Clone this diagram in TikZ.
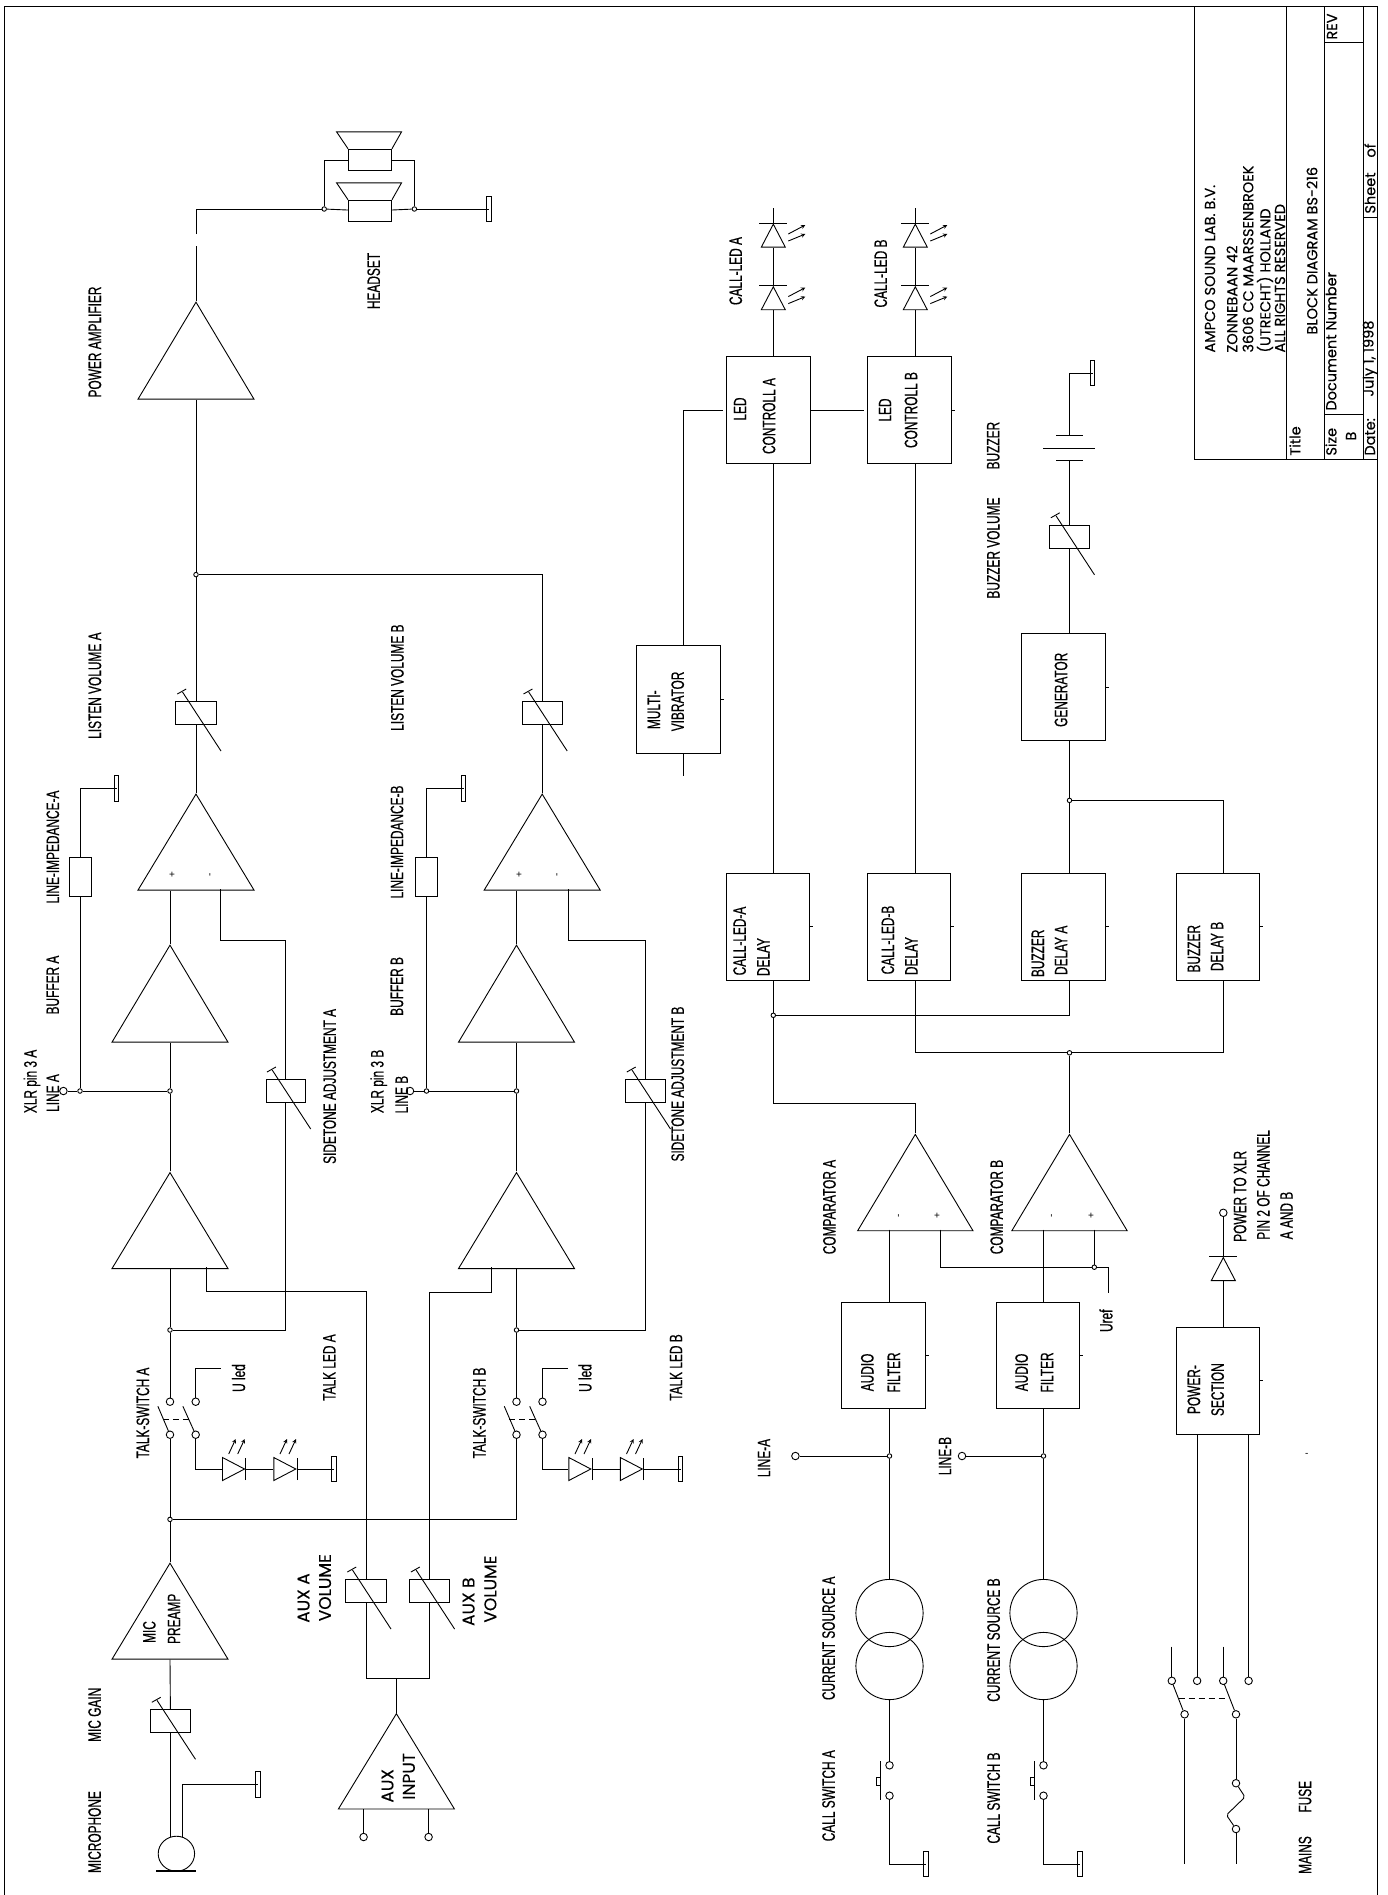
\documentclass[tikz,border=0pt]{standalone}
\usepackage{fontspec}
\usetikzlibrary{shapes.geometric}
\newfontfamily\cadfont[FakeStretch=.66,FakeBold=.5]{Liberation Sans}
\newfontfamily\gothfont[FakeBold=.3]{Poppins}
\newfontfamily\signfont{Liberation Sans}
\tikzset{
    box/.style 2 args={draw, rectangle, inner sep=0pt, minimum width=#1, minimum height=#2},
    amp/.style 2 args={draw, isosceles triangle, isosceles triangle stretches, shape border rotate=90,
        anchor=apex, inner sep=0pt, minimum width=#1, minimum height=#2},
    diodeup/.style={amp={24}{23}},
    dioderight/.style={draw, isosceles triangle, isosceles triangle stretches, anchor=apex,
        inner sep=0pt, minimum width=23, minimum height=22},
    dot/.style={draw, circle, inner sep=0pt, minimum size=4.5},
    term/.style={draw, circle, inner sep=0pt, minimum size=7.5},
    earth/.style={draw, rectangle, inner sep=0pt, minimum width=4.4, minimum height=25.5},
    lbl/.style={rotate=90, inner sep=0pt, font=\cadfont\fontsize{18}{18}\selectfont},
    pm/.style={rotate=90, inner sep=0pt, font=\signfont\fontsize{10}{10}\selectfont},
    goth/.style={rotate=90, inner sep=0pt, font=\gothfont\fontsize{17}{17}\selectfont},
    title/.style={rotate=90, inner sep=0pt, anchor=west, font=\gothfont\fontsize{14.5}{14.5}\selectfont},
    linked/.style={dash pattern=on 6pt off 4pt},
}
% adjustable resistor: name, x, y, width
\newcommand{\potm}[4]{
    \node[box={#4}{23}] (#1) at (#2,#3) {};
    \draw ([shift={(-13.5,-21)}]#1.center) -- ([shift={(25,38)}]#1.center);
    \draw ([shift={(-18.7,-19)}]#1.center) -- ([shift={(-9.8,-24)}]#1.center);
}
% led pointing up: name, apex x, apex y
\newcommand{\ledup}[3]{
    \node[diodeup] (#1) at (#2,#3) {};
    \draw ([xshift=-14pt]#1.apex) -- ([xshift=14pt]#1.apex);
    \draw[->] ([shift={(15,11)}]#1.apex) -- ([shift={(32,2)}]#1.apex);
    \draw[->] ([shift={(15,18)}]#1.apex) -- ([shift={(32,11)}]#1.apex);
}
% led pointing right: name, apex x, apex y
\newcommand{\ledright}[3]{
    \node[dioderight] (#1) at (#2,#3) {};
    \draw ([yshift=-11pt]#1.apex) -- ([yshift=11pt]#1.apex);
    \draw[->] ([shift={(-17,-15)}]#1.apex) -- ([shift={(-10,-30)}]#1.apex);
    \draw[->] ([shift={(-8,-15)}]#1.apex) -- ([shift={(-1,-30)}]#1.apex);
}
% earphone: name, x, y
\newcommand{\phone}[3]{
    \node[box={43}{21.5}] (#1) at (#2,#3) {};
    \draw (#1.north west) -- ++(-11.5,-17) -- ++(65,0) -- (#1.north east);
}
\begin{document}
\begin{tikzpicture}[x=1pt, y=-1pt, line width=.9pt, >=stealth]
    \useasboundingbox (0,0) rectangle (1388,1895);

    % Frame and title block
    \draw (4.7,1895) -- (4.7,6.5) -- (1377.7,6.5) -- (1377.7,1895);
    \draw (1194,6.5) -- (1194,459) -- (1377.7,459);
    \draw (1286,6.5) -- (1286,459);
    \draw (1324.3,6.5) -- (1324.3,459);
    \draw (1363.7,6.5) -- (1363.7,459);
    \draw (1324.3,42) -- (1363.7,42);
    \draw (1324.3,414) -- (1363.7,414);
    \draw (1363.7,217) -- (1377.7,217);
    \node[title] (tbAmpco) at (1210,353) {AMPCO SOUND LAB. B.V.};
    \node[title] (tbStreet) at (1232,353) {ZONNEBAAN 42};
    \node[title] (tbCity) at (1248,353) {3606 CC MAARSSENBROEK};
    \node[title] (tbLand) at (1265,353) {(UTRECHT) HOLLAND};
    \node[title] (tbRights) at (1280,353) {ALL RIGHTS RESERVED};
    \node[title] (tbTitle) at (1295,456) {Title};
    \node[title] (tbBlock) at (1312,335) {BLOCK DIAGRAM BS-216};
    \node[title] (tbSize) at (1331,456) {Size};
    \node[title] (tbB) at (1351,441) {B};
    \node[title] (tbDoc) at (1331,411) {Document Number};
    \node[title] (tbDate) at (1370,456) {Date:};
    \node[title] (tbJuly) at (1370,397) {July 1, 1998};
    \node[title] (tbSheet) at (1370,214) {Sheet};
    \node[title] (tbOf) at (1370,158) {of};
    \node[title] (tbRev) at (1332,40) {REV};

    % Channel A
    \node[amp={116}{96}] (preA) at (170,1562) {};
    \node[amp={116}{96}] (ampA) at (170,1171.4) {};
    \node[amp={116}{97}] (bufA) at (170,944) {};
    \node[amp={116}{96}] (difA) at (196,792.9) {};
    \node[amp={116}{97}] (power) at (196,301) {};
    \node[dot] (jMicA) at (170,1519.4) {};
    \node[dot] (jSideA) at (170,1330) {};
    \node[dot] (jLineA) at (170,1091) {};
    \node[dot] (jZA) at (80,1091) {};
    \node[term] (xlrA) at (63.4,1091) {};
    \node[dot] (jListen) at (196,574.6) {};
    \node[term] (swA1t) at (170,1401.7) {};
    \node[term] (swA1b) at (170,1434.7) {};
    \node[term] (swA2t) at (195.7,1401.7) {};
    \node[term] (swA2b) at (195.7,1434.7) {};
    \coordinate (uLedA) at (221.4,1368);
    \ledright{ledA1}{245.7}{1469}
    \ledright{ledA2}{297}{1469}
    \node[earth] (gndLedA) at (334,1469) {};
    \potm{gain}{170.5}{1721.3}{40.3}
    \potm{sideA}{285.7}{1091}{39.5}
    \potm{listenA}{196}{713}{40.7}
    \node[box={22}{39.3}] (zA) at (80,877) {};
    \node[earth] (gndZA) at (116.5,788.2) {};
    \coordinate (difAp) at (220.4,889);
    \coordinate (difAc) at (285.7,940.4);
    \coordinate (ampAp) at (206.6,1267);
    \coordinate (ampAc) at (366,1291.8);

    % Channel B
    \node[amp={116}{96}] (ampB) at (516.5,1171.4) {};
    \node[amp={116}{97}] (bufB) at (516.5,944) {};
    \node[amp={116}{96}] (difB) at (542.2,792.9) {};
    \node[dot] (jSideB) at (516.5,1330) {};
    \node[dot] (jLineB) at (516.5,1091) {};
    \node[dot] (jZB) at (426.5,1091) {};
    \node[term] (xlrB) at (410,1091) {};
    \node[term] (swB1t) at (516.5,1401.7) {};
    \node[term] (swB1b) at (516.5,1434.7) {};
    \node[term] (swB2t) at (542.5,1401.7) {};
    \node[term] (swB2b) at (542.5,1434.7) {};
    \coordinate (uLedB) at (568,1368);
    \ledright{ledB1}{592}{1469}
    \ledright{ledB2}{643.5}{1469}
    \node[earth] (gndLedB) at (680.5,1469) {};
    \potm{sideB}{645.5}{1091}{39.5}
    \potm{listenB}{542.2}{713}{39.5}
    \node[box={22}{39.3}] (zB) at (426.5,877) {};
    \node[earth] (gndZB) at (463.5,788.2) {};
    \coordinate (difBp) at (568.4,889);
    \coordinate (difBc) at (645.5,940.4);
    \coordinate (ampBp) at (491.3,1267);
    \coordinate (ampBc) at (429.6,1292.9);

    % Microphone, aux input and headset
    \node[draw, ellipse, inner sep=0pt, minimum width=36.4, minimum height=35] (mic) at (176.4,1853.7) {};
    \coordinate (micSig) at (170,1837);
    \coordinate (micGnd) at (182.5,1837);
    \node[earth] (gndMic) at (258,1784.6) {};
    \draw[line width=1.2pt] (156.4,1871) -- (196.4,1871);
    \potm{auxVolA}{366}{1591}{40.7}
    \potm{auxVolB}{429.6}{1591}{40}
    \coordinate (auxSum) at (396.4,1678.7);
    \node[amp={116}{95.3}] (auxIn) at (396.4,1712.5) {};
    \node[term] (auxTa) at (363.6,1837) {};
    \node[term] (auxTb) at (428.6,1837) {};
    \phone{phoneA}{370}{160}
    \phone{phoneB}{370}{211}
    \node[dot] (jPhA) at (324.2,209) {};
    \node[dot] (jPhB) at (414.4,209) {};
    \node[earth] (gndPh) at (489,209) {};
    \coordinate (cutLow) at (196,246);
    \coordinate (cutHigh) at (196,234);

    % Call logic
    \node[box={84.4}{108.3}] (multi) at (678.5,699.5) {};
    \node[box={83.7}{106.5}] (ctlA) at (768.2,410) {};
    \node[box={84.4}{106.5}] (ctlB) at (909.5,410) {};
    \ledup{callA1}{773.3}{285.6}
    \ledup{callA2}{773.3}{223}
    \ledup{callB1}{915.3}{285.6}
    \ledup{callB2}{915.3}{223}
    \coordinate (mvOut) at (683.3,645.4);
    \coordinate (mvEnd) at (683.3,776);
    \coordinate (ctlAin) at (722.7,410);
    \coordinate (ctlBin) at (864,410);
    \coordinate (topA) at (773.3,208);
    \coordinate (topB) at (915.3,208);
    \node[box={83}{107}] (dlyA) at (768,926.5) {};
    \node[box={83}{107}] (dlyB) at (909.4,926.5) {};
    \node[box={84}{107}] (dlyC) at (1063.2,926.5) {};
    \node[box={83.6}{107}] (dlyD) at (1217.8,926.5) {};
    \node[box={84}{107}] (gen) at (1063.3,687) {};
    \potm{buzVol}{1069.5}{536.8}{39.6}
    \node[dot] (jGen) at (1069.5,800.4) {};
    \node[dot] (jCmpA) at (773.3,1015.3) {};
    \node[dot] (jCmpB) at (1069.5,1052.8) {};
    \coordinate (cmpAc) at (773.3,1103.3);
    \coordinate (cmpAd) at (915.3,1103.3);
    \coordinate (dlyBc) at (915.3,1052.8);
    \coordinate (dlyDc) at (1223.3,1052.8);
    \coordinate (genD) at (1223.3,800.4);
    \node[amp={115.4}{96.4}] (cmpA) at (915.3,1133.2) {};
    \node[amp={115.4}{96.4}] (cmpB) at (1069.5,1133.2) {};
    \coordinate (cmpAm) at (889.5,1229.6);
    \coordinate (cmpAq) at (940.8,1229.6);
    \coordinate (cmpBm) at (1043.5,1229.6);
    \coordinate (cmpBq) at (1094.3,1229.6);
    \node[dot] (jRef) at (1094.3,1267.2) {};
    \coordinate (refA) at (940.8,1267.2);
    \coordinate (refB) at (1108.2,1267.2);
    \coordinate (refEnd) at (1108.2,1293.2);
    \node[box={83.7}{106.7}] (fltA) at (883.5,1355.3) {};
    \node[box={83.7}{106.7}] (fltB) at (1037.8,1355.3) {};
    \node[dot] (jLnA) at (889.5,1456) {};
    \node[dot] (jLnB) at (1043.5,1456) {};
    \node[term] (lnA) at (795.4,1456) {};
    \node[term] (lnB) at (962,1456) {};
    \node[draw, circle, inner sep=0pt, minimum size=67.2] (srcA1) at (889.5,1613) {};
    \node[draw, circle, inner sep=0pt, minimum size=67.2] (srcA2) at (889.5,1666) {};
    \node[draw, circle, inner sep=0pt, minimum size=67.2] (srcB1) at (1043.5,1613) {};
    \node[draw, circle, inner sep=0pt, minimum size=67.2] (srcB2) at (1043.5,1666) {};
    \node[term] (csA1) at (889.5,1765.3) {};
    \node[term] (csA2) at (889.5,1795.7) {};
    \node[term] (csB1) at (1043.5,1765.3) {};
    \node[term] (csB2) at (1043.5,1795.7) {};
    \node[box={4.4}{7.4}] (knobA) at (878.2,1781.5) {};
    \node[box={4.4}{7.4}] (knobB) at (1032.4,1781.5) {};
    \draw (880.4,1761) -- (880.4,1800.4);
    \draw (1034.6,1761) -- (1034.6,1800.4);
    \node[earth] (gndCsA) at (926,1864) {};
    \node[earth] (gndCsB) at (1079.8,1864) {};

    % Buzzer
    \node[earth] (gndBuz) at (1092.5,373) {};
    \coordinate (capTop) at (1069.5,435.7);
    \coordinate (capLow) at (1069.5,460.5);
    \draw (1056,435.7) -- (1082.7,435.7);
    \draw (1043.3,448.5) -- (1094.7,448.5);
    \draw (1056,460.5) -- (1082.7,460.5);

    % Power section and mains
    \node[box={83.6}{107}] (pow) at (1217.8,1380.5) {};
    \node[diodeup] (powD) at (1223.3,1256.4) {};
    \draw ([xshift=-14pt]powD.apex) -- ([xshift=14pt]powD.apex);
    \node[term] (xlrPow) at (1223.3,1212.8) {};
    \node[term] (mA1) at (1171.8,1680.8) {};
    \node[term] (mA2) at (1184.6,1714.3) {};
    \node[term] (mP1) at (1197.1,1680.8) {};
    \node[term] (mB1) at (1223.2,1680.8) {};
    \node[term] (mB2) at (1236,1714.3) {};
    \node[term] (mP2) at (1248.6,1680.8) {};
    \node[term] (fuseT) at (1236,1783.2) {};
    \node[term] (fuseB) at (1236,1829) {};
    \coordinate (inA) at (1171.8,1646.7);
    \coordinate (inB) at (1223.2,1646.7);
    \coordinate (outA) at (1184.6,1864);
    \coordinate (outB) at (1236,1864);

    % Connections, channel A
    \draw (micSig) -- (micSig |- gain.south);
    \draw (micGnd) |- (gndMic.center);
    \draw (gain) -- (preA.lower side);
    \draw (preA.apex) -- (jMicA);
    \draw (jMicA) -- (swA1b);
    \draw (swA1t) -- (jSideA);
    \draw (jSideA) -- (ampA.lower side);
    \draw (ampA.apex) -- (jLineA);
    \draw (jLineA) -- (bufA.lower side);
    \draw (bufA.apex) -- (bufA.apex |- difA.lower side);
    \draw (difA.apex) -- (listenA);
    \draw (listenA) -- (jListen);
    \draw (jListen) -- (power.lower side);
    \draw (xlrA) -- (jZA);
    \draw (jZA) -- (jLineA);
    \draw (jZA) -- (zA);
    \draw (zA) |- (gndZA.center);
    \draw (difAp) |- (difAc) -- (sideA);
    \draw (sideA) |- (jSideA);
    \draw (swA2t) |- (uLedA);
    \draw (swA2b) |- (ledA1);
    \draw (ledA1.apex) -- (ledA2);
    \draw (ledA2.apex) -- (gndLedA.center);
    \draw (157.9,1406.3) -- (swA1b);
    \draw (182.9,1406.3) -- (swA2b);
    \draw[linked] (162.9,1419) -- (188.6,1419);
    \draw (ampAp) |- (ampAc) -- (auxVolA);

    % Connections, channel B
    \draw (jMicA) -| (swB1b);
    \draw (swB1t) -- (jSideB);
    \draw (jSideB) -- (ampB.lower side);
    \draw (ampB.apex) -- (jLineB);
    \draw (jLineB) -- (bufB.lower side);
    \draw (bufB.apex) -- (bufB.apex |- difB.lower side);
    \draw (difB.apex) -- (listenB);
    \draw (listenB) |- (jListen);
    \draw[line width=1.6pt] (375,574.6) -- (389.5,574.6);
    \draw (xlrB) -- (jZB);
    \draw (jZB) -- (jLineB);
    \draw (jZB) -- (zB);
    \draw (zB) |- (gndZB.center);
    \draw (difBp) |- (difBc) -- (sideB);
    \draw (sideB) |- (jSideB);
    \draw (swB2t) |- (uLedB);
    \draw (swB2b) |- (ledB1);
    \draw (ledB1.apex) -- (ledB2);
    \draw (ledB2.apex) -- (gndLedB.center);
    \draw (504.3,1406.3) -- (swB1b);
    \draw (529.7,1406.3) -- (swB2b);
    \draw[linked] (509.3,1419) -- (535,1419);
    \draw (ampBp) |- (ampBc) -- (auxVolB);

    % Connections, aux and headset
    \draw (auxVolA) |- (auxSum);
    \draw (auxVolB) |- (auxSum);
    \draw (auxSum) -- (auxIn.apex);
    \draw (auxTa |- auxIn.lower side) -- (auxTa);
    \draw (auxTb |- auxIn.lower side) -- (auxTb);
    \draw (power.apex) -- (cutLow);
    \draw (cutHigh) |- (jPhA);
    \draw (jPhA) -- (phoneB);
    \draw (phoneB) -- (jPhB);
    \draw (jPhB) -- (gndPh.center);
    \draw (jPhA) |- (phoneA);
    \draw (jPhB) |- (phoneA);

    % Connections, call logic
    \draw (mvOut) |- (ctlAin);
    \draw (ctlA.east) -- (ctlBin);
    \draw (mvEnd |- multi.south) -- (mvEnd);
    \draw (multi.east) -- ++(3,0);
    \draw (ctlB.east) -- ++(3,0);
    \draw (dlyA.east) -- ++(3,0);
    \draw (dlyB.east) -- ++(3,0);
    \draw (dlyC.east) -- ++(3,0);
    \draw (dlyD.east) -- ++(3,0);
    \draw (gen.east) -- ++(3,0);
    \draw (fltA.east) -- ++(3,0);
    \draw (fltB.east) -- ++(3,0);
    \draw (pow.east) -- ++(3,0);
    \draw (callA1.lower side) -- (callA1.lower side |- ctlA.north);
    \draw (callA2.lower side) -- (callA1.apex);
    \draw (callA2.apex) -- (topA);
    \draw (callB1.lower side) -- (callB1.lower side |- ctlB.north);
    \draw (callB2.lower side) -- (callB1.apex);
    \draw (callB2.apex) -- (topB);
    \draw (jCmpA |- ctlA.south) -- (jCmpA |- dlyA.north);
    \draw (dlyBc |- ctlB.south) -- (dlyBc |- dlyB.north);
    \draw (jCmpA |- dlyA.south) -- (jCmpA);
    \draw (jCmpA) -- (cmpAc) -- (cmpAd) -- (cmpA.apex);
    \draw (jCmpA) -| (jCmpB |- dlyC.south);
    \draw (dlyBc |- dlyB.south) -- (dlyBc) -- (jCmpB);
    \draw (jCmpB) -- (dlyDc) -- (dlyDc |- dlyD.south);
    \draw (jCmpB) -- (cmpB.apex);
    \draw (jGen |- gen.south) -- (jGen);
    \draw (jGen) -- (jGen |- dlyC.north);
    \draw (jGen) -- (genD) -- (genD |- dlyD.north);
    \draw (jGen |- gen.north) -- (buzVol);
    \draw (buzVol) -- (capLow);
    \draw (capTop) |- (gndBuz.center);
    \draw (cmpAm) -- (cmpAm |- fltA.north);
    \draw (cmpBm) -- (cmpBm |- fltB.north);
    \draw (cmpAq) -- (refA) -- (jRef);
    \draw (cmpBq) -- (jRef);
    \draw (jRef) -- (refB) -- (refEnd);
    \draw (jLnA |- fltA.south) -- (jLnA);
    \draw (jLnB |- fltB.south) -- (jLnB);
    \draw (lnA) -- (jLnA);
    \draw (lnB) -- (jLnB);
    \draw (jLnA) -- (srcA1);
    \draw (jLnB) -- (srcB1);
    \draw (srcA2) -- (csA1);
    \draw (srcB2) -- (csB1);
    \draw (csA2) |- (gndCsA.center);
    \draw (csB2) |- (gndCsB.center);

    % Connections, power
    \draw (powD.lower side |- pow.north) -- (powD.lower side);
    \draw (powD.apex) -- (xlrPow);
    \draw (mP1 |- pow.south) -- (mP1);
    \draw (mP2 |- pow.south) -- (mP2);
    \draw (inA) -- (mA1);
    \draw (inB) -- (mB1);
    \draw (1172.8,1684) -- (mA2);
    \draw (1224.2,1684) -- (mB2);
    \draw[linked] (1178.6,1698) -- (1228.6,1698);
    \draw (mA2) -- (outA);
    \draw (mB2) -- (fuseT);
    \draw[rounded corners=2pt] (fuseT) -- (1245,1797) -- (1226.4,1815) -- (fuseB);
    \draw (fuseB) -- (outB);

    % Labels, left side
    \node[lbl] (tMicrophone) at (94.6,1832) {MICROPHONE};
    \node[lbl] (tMicGain) at (94.6,1714.8) {MIC GAIN};
    \node[lbl] (tMic) at (149.3,1632) {MIC};
    \node[lbl] (tPreamp) at (174,1618.8) {PREAMP};
    \node[goth] (tAuxA) at (303.6,1598) {AUX A};
    \node[goth] (tVolA) at (325,1587.7) {VOLUME};
    \node[goth] (tAuxB) at (468.6,1601.7) {AUX B};
    \node[goth] (tVolB) at (490.4,1589) {VOLUME};
    \node[goth] (tAux) at (387.5,1785.8) {AUX};
    \node[goth] (tInput) at (408.9,1776.3) {INPUT};
    \node[lbl] (tSwA) at (142.9,1413) {TALK-SWITCH A};
    \node[lbl] (tSwB) at (479.3,1413) {TALK-SWITCH B};
    \node[lbl] (tUA) at (238.6,1378) {U led};
    \node[lbl] (tUB) at (585,1378) {U led};
    \node[lbl] (tTalkA) at (329.3,1367.5) {TALK LED A};
    \node[lbl] (tTalkB) at (676,1367.5) {TALK LED B};
    \node[lbl] (tXlrA) at (32,1081.4) {XLR pin 3 A};
    \node[lbl] (tLineA) at (52.8,1093) {LINE A};
    \node[lbl] (tXlrB) at (378.8,1081.4) {XLR pin 3 B};
    \node[lbl] (tLineB) at (401.7,1094.6) {LINE B};
    \node[lbl] (tSideA) at (329.7,1086.4) {SIDETONE ADJUSTMENT A};
    \node[lbl] (tSideB) at (677.7,1084) {SIDETONE ADJUSTMENT B};
    \node[lbl] (tBufA) at (52.8,985) {BUFFER A};
    \node[lbl] (tBufB) at (397,986.4) {BUFFER B};
    \node[lbl] (tZA) at (52.8,847) {LINE-IMPEDANCE-A};
    \node[lbl] (tZB) at (397,842) {LINE-IMPEDANCE-B};
    \node[lbl] (tListenA) at (94.9,685.6) {LISTEN VOLUME A};
    \node[lbl] (tListenB) at (397.4,677.6) {LISTEN VOLUME B};
    \node[lbl] (tPower) at (94.9,342) {POWER AMPLIFIER};
    \node[lbl] (tHeadset) at (373.7,281) {HEADSET};
    \node[pm] (pA) at (172.6,875) {+};
    \node[pm] (mA) at (211.2,875) {-};
    \node[pm] (pB) at (519.5,875) {+};
    \node[pm] (mB) at (558,875) {-};

    % Labels, right side
    \node[lbl] (tMulti) at (654,709.7) {MULTI-};
    \node[lbl] (tVibr) at (677.7,701.4) {VIBRATOR};
    \node[lbl] (tLedA) at (740,409) {LED};
    \node[lbl] (tCtlA) at (769,416) {CONTROLL A};
    \node[lbl] (tLedB) at (885,410) {LED};
    \node[lbl] (tCtlB) at (911,410) {CONTROLL B};
    \node[lbl] (tCallA) at (735.7,271) {CALL-LED A};
    \node[lbl] (tCallB) at (880.7,273.5) {CALL-LED B};
    \node[lbl] (tBuz) at (993.3,445.6) {BUZZER};
    \node[lbl] (tBuzVol) at (993.3,548) {BUZZER VOLUME};
    \node[lbl] (tGen) at (1061,689.8) {GENERATOR};
    \node[lbl] (tDlyA1) at (739.6,941) {CALL-LED-A};
    \node[lbl] (tDlyA2) at (763.3,957) {DELAY};
    \node[lbl] (tDlyB1) at (887.8,940) {CALL-LED-B};
    \node[lbl] (tDlyB2) at (911.4,956) {DELAY};
    \node[lbl] (tDlyC1) at (1038,953.3) {BUZZER};
    \node[lbl] (tDlyC2) at (1061,950.3) {DELAY A};
    \node[lbl] (tDlyD1) at (1193.9,948.7) {BUZZER};
    \node[lbl] (tDlyD2) at (1217,946.4) {DELAY B};
    \node[lbl] (tCmpA) at (829.4,1207) {COMPARATOR A};
    \node[lbl] (tCmpB) at (996.7,1207) {COMPARATOR B};
    \node[pm] (cmA) at (899.6,1215.5) {-};
    \node[pm] (cpA) at (937.6,1215.5) {+};
    \node[pm] (cmB) at (1052.7,1215.5) {-};
    \node[pm] (cpB) at (1091.4,1215.5) {+};
    \node[lbl] (tUref) at (1106,1320.7) {Uref};
    \node[lbl] (tFltA1) at (867.3,1372.4) {AUDIO};
    \node[lbl] (tFltA2) at (893.9,1372.4) {FILTER};
    \node[lbl] (tFltB1) at (1021.6,1372.4) {AUDIO};
    \node[lbl] (tFltB2) at (1047,1372.4) {FILTER};
    \node[lbl] (tPow1) at (1193.9,1389.6) {POWER-};
    \node[lbl] (tPow2) at (1217.6,1389.6) {SECTION};
    \node[lbl] (tXlr1) at (1240,1196.3) {POWER TO XLR};
    \node[lbl] (tXlr2) at (1263.3,1184.9) {PIN 2 OF CHANNEL};
    \node[lbl] (tXlr3) at (1286.5,1215.5) {A AND B};
    \node[lbl] (tLnA) at (764,1458) {LINE-A};
    \node[lbl] (tLnB) at (945,1456) {LINE-B};
    \node[lbl] (tSrcA) at (828.6,1638.3) {CURRENT SOURCE A};
    \node[lbl] (tSrcB) at (993.6,1640) {CURRENT SOURCE B};
    \node[lbl] (tCsA) at (828.6,1795.7) {CALL SWITCH A};
    \node[lbl] (tCsB) at (993.6,1798) {CALL SWITCH B};
    \node[lbl] (tFuse) at (1305,1796.7) {FUSE};
    \node[lbl] (tMains) at (1305,1855) {MAINS};
    \node[inner sep=0pt, font=\signfont\fontsize{10}{10}\selectfont] (tDash) at (1306.7,1454.7) {-};
\end{tikzpicture}
\end{document}
